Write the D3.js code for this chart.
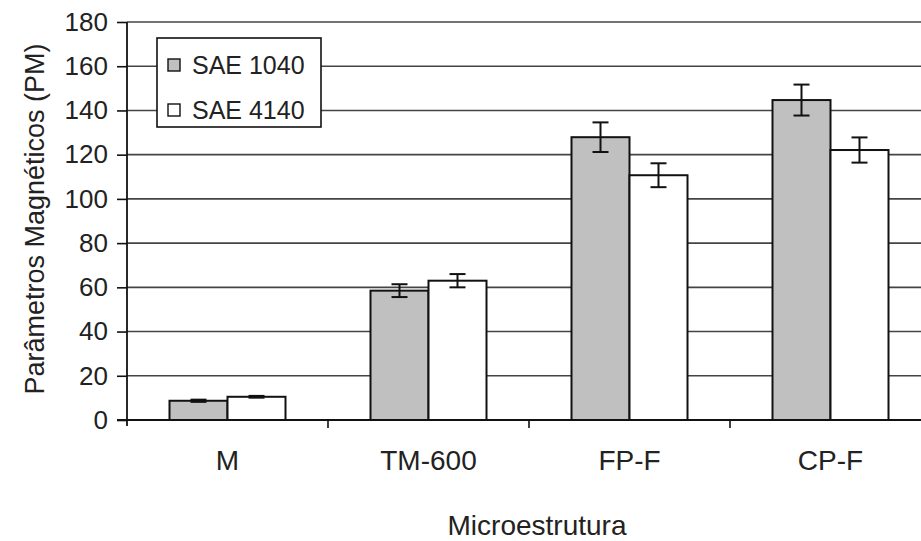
<!DOCTYPE html>
<html><head><meta charset="utf-8">
<script src="https://cdn.jsdelivr.net/npm/d3@7"></script>
<style>body{margin:0;background:#fff;overflow:hidden}svg{display:block;font-family:"Liberation Sans",Arial,sans-serif}</style>
</head><body>
<svg id="c" width="921" height="541"></svg>
<script>
const categories = ["M", "TM-600", "FP-F", "CP-F"];
const seriesNames = ["SAE 1040", "SAE 4140"];
const sae1040 = [8.7, 58.5, 127.9, 144.7];
const sae1040Err = [0.5, 2.9, 6.7, 7.0];
const sae4140 = [10.5, 63.0, 110.7, 122.1];
const sae4140Err = [0.4, 3.0, 5.4, 5.7];
const yTicks = [0, 20, 40, 60, 80, 100, 120, 140, 160, 180];
const colors = ["#c0c0c0", "#ffffff"];

const svg = d3.select("#c");
const x0 = 127, y0 = 420, yTop = 22;
const y = d3.scaleLinear().domain([0, 180]).range([y0, yTop]);
const x = d3.scaleBand().domain(categories).range([x0, x0 + 4 * 201]).padding(0);
const groupW = 116;
const xs = d3.scaleBand().domain(seriesNames).range([(x.bandwidth() - groupW) / 2, (x.bandwidth() + groupW) / 2]).padding(0);

// gridlines
svg.append("g").selectAll("line").data(yTicks.filter(d => d > 0)).join("line")
  .attr("x1", x0).attr("x2", 921).attr("y1", d => y(d)).attr("y2", d => y(d))
  .attr("stroke", "#444").attr("stroke-width", 1.6);

const data = [
  {name: seriesNames[0], vals: sae1040, errs: sae1040Err, color: colors[0]},
  {name: seriesNames[1], vals: sae4140, errs: sae4140Err, color: colors[1]}
];

data.forEach(s => {
  const g = svg.append("g");
  g.selectAll("rect").data(categories).join("rect")
    .attr("x", (c) => x(c) + xs(s.name))
    .attr("width", xs.bandwidth())
    .attr("y", (c, i) => y(s.vals[i]))
    .attr("height", (c, i) => y0 - y(s.vals[i]))
    .attr("fill", s.color).attr("stroke", "#111").attr("stroke-width", 2);
});

data.forEach(s => {
  const g = svg.append("g").attr("stroke", "#111").attr("stroke-width", 2);
  categories.forEach((c, i) => {
    const cx = x(c) + xs(s.name) + xs.bandwidth() / 2;
    const hi = y(s.vals[i] + s.errs[i]), lo = y(s.vals[i] - s.errs[i]);
    g.append("line").attr("x1", cx).attr("x2", cx).attr("y1", hi).attr("y2", lo);
    g.append("line").attr("x1", cx - 8).attr("x2", cx + 8).attr("y1", hi).attr("y2", hi);
    g.append("line").attr("x1", cx - 8).attr("x2", cx + 8).attr("y1", lo).attr("y2", lo);
  });
});

// y axis
const ya = svg.append("g").attr("transform", `translate(${x0},0)`)
  .call(d3.axisLeft(y).tickValues(yTicks).tickSize(10).tickPadding(9));
ya.select(".domain").attr("stroke", "#111").attr("stroke-width", 1.8).attr("d", `M0,${yTop}V${y0 + 6}`);
ya.selectAll(".tick line").attr("stroke", "#111").attr("stroke-width", 1.6);
ya.selectAll(".tick text").attr("font-size", 26).attr("fill", "#222").attr("font-family", "Liberation Sans, Arial, sans-serif");

// x axis
svg.append("line").attr("x1", x0 - 10).attr("x2", 921).attr("y1", y0).attr("y2", y0)
  .attr("stroke", "#111").attr("stroke-width", 2);
svg.append("g").selectAll("line").data(categories.slice(1)).join("line")
  .attr("x1", d => x(d)).attr("x2", d => x(d)).attr("y1", y0).attr("y2", y0 + 8)
  .attr("stroke", "#111").attr("stroke-width", 1.6);
svg.append("g").selectAll("text").data(categories).join("text")
  .attr("x", d => x(d) + x.bandwidth() / 2).attr("y", 470)
  .attr("text-anchor", "middle").attr("font-size", 28).attr("fill", "#222")
  .text(d => d);

svg.append("text").attr("x", 537).attr("y", 535).attr("text-anchor", "middle")
  .attr("font-size", 28).attr("fill", "#222").text("Microestrutura");
svg.append("text").attr("transform", "translate(44,219) rotate(-90)").attr("text-anchor", "middle")
  .attr("font-size", 27).attr("fill", "#222").text("Parâmetros Magnéticos (PM)");

// legend
const lg = svg.append("g");
lg.append("rect").attr("x", 157).attr("y", 38).attr("width", 164).attr("height", 89)
  .attr("fill", "#fff").attr("stroke", "#111").attr("stroke-width", 1.6);
data.forEach((s, i) => {
  const ly = 65 + i * 45;
  lg.append("rect").attr("x", 168).attr("y", ly - 6).attr("width", 12).attr("height", 12)
    .attr("fill", s.color).attr("stroke", "#111").attr("stroke-width", 1.4);
  lg.append("text").attr("x", 192).attr("y", ly + 9).attr("font-size", 25).attr("fill", "#222").text(s.name);
});
</script>
</body></html>
